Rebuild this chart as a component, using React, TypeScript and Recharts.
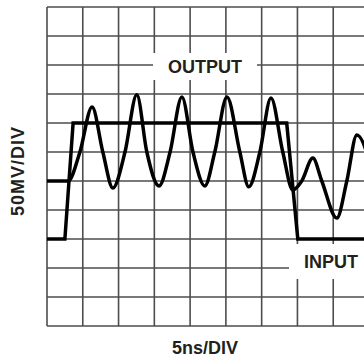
import React from 'react';
import { LineChart, Line, XAxis, YAxis, CartesianGrid } from 'recharts';

// time in divisions (5ns/DIV), level in divisions (50mV/DIV) from the bottom grid line
const inputTime = [0, 0.5, 0.73, 6.7, 7.01, 9.3];
const inputLevel = [3, 3, 7, 7, 3, 3];

// extremes plus the points where each slope crosses a grid line
const outputTime = [
  0, 0.59, 0.92, 1.26, 1.56, 1.84, 2.18, 2.51, 2.79, 3.13, 3.44, 3.77, 4.08, 4.41,
  4.69, 5.03, 5.39, 5.64, 5.95, 6.26, 6.59, 6.87, 7.12, 7.43, 7.68, 8.1, 8.38, 8.66, 9.3,
];
const outputLevel = [
  5, 5, 6, 7.55, 6, 4.76, 6, 7.97, 6, 4.83, 6, 7.9, 6, 4.83,
  6, 7.9, 6, 4.8, 6, 7.86, 6, 4.69, 5, 5.79, 5, 3.72, 5, 6.59, 4.0,
];

const timeTicks = [0, 1, 2, 3, 4, 5, 6, 7, 8, 9];
const levelTicks = [0, 1, 2, 3, 4, 5, 6, 7, 8, 9, 10, 11];

const inputData = inputTime.map((t, i) => ({ t, v: inputLevel[i] }));
const outputData = outputTime.map((t, i) => ({ t, v: outputLevel[i] }));

const FONT = '"Liberation Sans", Arial, sans-serif';
const TEXT = '#231f20';

const labelStyle: React.CSSProperties = {
  position: 'absolute',
  fontFamily: FONT,
  fontWeight: 700,
  fontSize: 18,
  color: TEXT,
  lineHeight: '18px',
  whiteSpace: 'nowrap',
};

const App: React.FC = () => {
  return (
    <div
      style={{
        position: 'absolute',
        left: 0,
        top: 0,
        width: 364,
        height: 358,
        overflow: 'hidden',
        background: '#fff',
      }}
    >
      <LineChart
        width={372}
        height={358}
        margin={{ top: 7, right: 3, bottom: 32, left: 47 }}
      >
        <CartesianGrid stroke="#4d4d4d" strokeWidth={1.6} />
        <XAxis
          type="number"
          dataKey="t"
          domain={[0, 9]}
          ticks={timeTicks}
          allowDataOverflow
          hide
        />
        <YAxis type="number" domain={[0, 11]} ticks={levelTicks} hide />
        <Line
          data={inputData}
          dataKey="v"
          type="linear"
          stroke="#000"
          strokeWidth={3.5}
          dot={false}
          isAnimationActive={false}
        />
        <Line
          data={outputData}
          dataKey="v"
          type="monotone"
          stroke="#000"
          strokeWidth={3.5}
          dot={false}
          isAnimationActive={false}
        />
      </LineChart>

      <div
        style={{
          ...labelStyle,
          left: 153,
          top: 53,
          width: 104,
          height: 27,
          background: '#fff',
          display: 'flex',
          alignItems: 'center',
          justifyContent: 'center',
        }}
      >
        OUTPUT
      </div>
      <div
        style={{
          ...labelStyle,
          left: 289,
          top: 244,
          width: 80,
          height: 35,
          background: '#fff',
          display: 'flex',
          alignItems: 'center',
          paddingLeft: 15,
          boxSizing: 'border-box',
        }}
      >
        INPUT
      </div>
      <div
        style={{
          ...labelStyle,
          left: 205,
          top: 339,
          transform: 'translateX(-50%)',
        }}
      >
        5ns/DIV
      </div>
      <div
        style={{
          ...labelStyle,
          left: 18,
          top: 171,
          letterSpacing: 1,
          transform: 'translate(-50%, -50%) rotate(-90deg)',
        }}
      >
        50MV/DIV
      </div>
    </div>
  );
};

export default App;
